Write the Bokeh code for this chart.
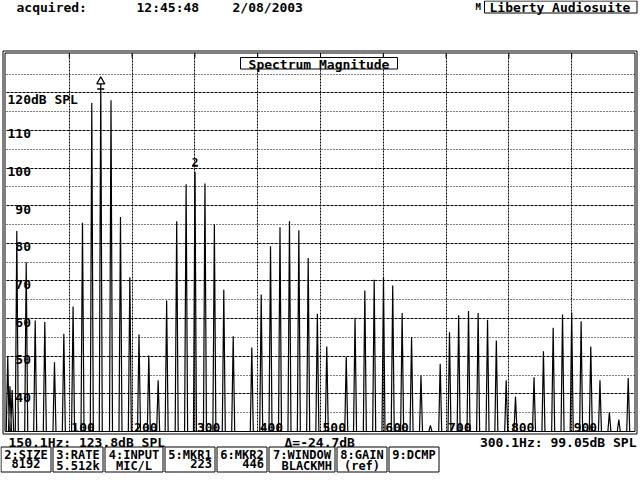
from bokeh.plotting import figure
from bokeh.models import Range1d, Grid, FixedTicker, ColumnDataSource
from bokeh.embed import file_html
from bokeh.resources import INLINE
from bokeh.core.properties import value

# ---------------- data ----------------
peak_hz = [2.0, 5.5, 9.0, 16.4, 31.4, 45.7, 61.0, 76.4, 91.3, 106.0, 121.0, 135.8,
           150.1, 166.4, 181.5, 196.4, 211.0, 226.6, 241.5, 255.0, 271.0, 286.0,
           300.1, 316.0, 331.0, 346.0, 361.0, 390.6, 405.6, 420.4, 435.5, 450.6,
           465.5, 480.4, 495.0, 510.0, 541.0, 555.0, 570.6, 585.5, 600.3, 615.0,
           630.0, 645.0, 660.0, 675.0, 690.6, 705.4, 720.0, 735.7, 751.0, 766.0,
           780.0, 795.7, 810.5, 840.0, 855.0, 870.5, 885.4, 900.0, 915.0, 930.4,
           945.0, 960.0, 975.0, 990.0]
peak_db = [49.8, 42.0, 41.0, 83.3, 75.0, 59.5, 59.1, 48.4, 56.0, 63.2, 85.5, 117.3,
           123.8, 118.0, 87.0, 71.0, 55.8, 50.2, 43.6, 64.8, 85.9, 95.7,
           99.05, 95.9, 85.1, 67.7, 55.3, 52.3, 66.4, 79.2, 84.3, 85.9,
           83.5, 76.1, 61.3, 52.6, 49.8, 60.2, 67.5, 70.3, 71.0, 68.8,
           61.5, 55.1, 44.9, 31.6, 48.0, 56.4, 60.9, 62.0, 61.5, 59.7,
           54.2, 43.6, 39.3, 44.4, 51.3, 57.6, 61.1, 61.6, 59.3, 52.6,
           43.6, 35.1, 33.2, 44.2]
marker1_hz, marker1_db = 150.1, 123.8
marker2_hz, marker2_db = 300.1, 99.05

hz_min, hz_max = 0, 1000
db_min, db_max = 30, 130
x_ticks = [100, 200, 300, 400, 500, 600, 700, 800, 900]
y_major = [40, 50, 60, 70, 80, 90, 100, 110, 120]
y_minor = [35, 45, 55, 65, 75, 85, 95, 105, 115, 125]
y_unit = "dB SPL"

header_words = ["acquired:", "12:45:48", "2/08/2003"]
brand = "Liberty Audiosuite"
chart_title = "Spectrum Magnitude"
cursor1_text = "150.1Hz: 123.8dB SPL"
delta_text = "\u0394=-24.7dB"
cursor2_text = "300.1Hz: 99.05dB SPL"
box_heads = ["2:SIZE", "3:RATE", "4:INPUT", "5:MKR1", "6:MKR2", "7:WINDOW", "8:GAIN", "9:DCMP"]
box_vals = ["8192", "5.512k", "MIC/L", "223", "446", "BLACKMH", "(ref)", ""]

# ---------------- geometry (figure pixels) ----------------
W, H = 640, 480
PX_L, PX_R = 6.0, 634.0       # 0 Hz / 1000 Hz
PY_BOT, PY_TOP = 431.0, 54.7  # 30 dB / 130 dB
sx = (PX_R - PX_L) / (hz_max - hz_min)
sy = (PY_BOT - PY_TOP) / (db_max - db_min)
CW = 7.83  # char width of 13px DejaVu Sans Mono

FONT = value("DejaVu Sans Mono")
FS = "13px"
TXT = dict(text_font=FONT, text_font_size=FS, text_font_style="bold", text_color="black")
TXT_S = dict(text_font=FONT, text_font_size="12px", text_font_style="bold", text_color="black")

p = figure(width=W, height=H,
           x_range=Range1d(hz_min - PX_L / sx, hz_min + (W - PX_L) / sx),
           y_range=Range1d(db_min - (H - PY_BOT) / sy, db_min + PY_BOT / sy),
           x_axis_type=None, y_axis_type=None,
           toolbar_location=None, output_backend="svg",
           min_border=0, outline_line_color=None,
           background_fill_color="white", border_fill_color="white")
p.extra_x_ranges = {"px": Range1d(0, W)}
p.extra_y_ranges = {"py": Range1d(H, 0)}
PXR = dict(x_range_name="px", y_range_name="py")

# ---------------- grid ----------------
top_db = db_min + (PY_BOT - 52.5) / sy
grid_specs = [
    (0, x_ticks, "2 1", (db_min, top_db)),
    (1, y_major, "3 1", (hz_min, hz_max)),
    (1, y_minor, "1 2", (hz_min, hz_max)),
]
for dim, ticks, dash, cb in grid_specs:
    try:
        g = Grid(dimension=dim, ticker=FixedTicker(ticks=ticks), cross_bounds=cb,
                 grid_line_color="black", grid_line_dash=dash, grid_line_width=1)
        p.add_layout(g)
    except AttributeError:
        if dim == 0:
            p.segment(x0=ticks, x1=ticks, y0=[cb[0]] * len(ticks), y1=[cb[1]] * len(ticks),
                      line_color="black", line_dash=dash)
        else:
            p.segment(x0=[cb[0]] * len(ticks), x1=[cb[1]] * len(ticks), y0=ticks, y1=ticks,
                      line_color="black", line_dash=dash)
# solid tick stubs at the top of each vertical grid line
p.segment(x0=x_ticks, x1=x_ticks, y0=[top_db] * len(x_ticks),
          y1=[top_db - 5 / sy] * len(x_ticks), line_color="black", line_width=1)

# ---------------- spectrum ----------------
w = 2.4
xs, ys = [hz_min], [db_min]
for f, d in sorted(zip(peak_hz, peak_db)):
    xs += [f - w, f, f + w]
    ys += [db_min, d, db_min]
xs.append(hz_max)
ys.append(db_min)
p.line(xs, ys, line_color="black", line_width=1.2)

# cursor 2 dotted line
p.segment(x0=[marker2_hz], x1=[marker2_hz], y0=[db_min], y1=[marker2_db],
          line_color="black", line_dash="1 1", line_width=1)

# markers
p.scatter([marker1_hz], [marker1_db - 0.8], marker="triangle", size=8,
          fill_color="white", line_color="black", line_width=1.2)
p.scatter([marker1_hz], [marker1_db - 2.8], marker="dash", size=7,
          line_color="black", line_width=1.5)
p.text([marker2_hz], [marker2_db], text=["2"], text_align="center", text_baseline="bottom",
       y_offset=-6, text_font=FONT, text_font_size="11px", text_font_style="bold",
       text_color="black")
p.scatter([marker2_hz], [marker2_db + 1.5], marker="dash", size=6,
          line_color="black", line_width=1.5)

# axis labels (inside plot)
ylab = [str(v) + (y_unit if v == max(y_major) else "") for v in y_major]
yoff = [1 + (3 - len(str(v))) * CW for v in y_major]
ysrc = ColumnDataSource(dict(x=[hz_min] * len(y_major), y=y_major, t=ylab, o=yoff))
p.text(x="x", y="y", text="t", x_offset="o", y_offset=-1, source=ysrc,
       text_align="left", text_baseline="top", **TXT)
p.text(x_ticks, [db_min] * len(x_ticks), text=[str(v) for v in x_ticks],
       text_align="left", text_baseline="bottom", x_offset=2, y_offset=0, **TXT)

# ---------------- frame ----------------
p.quad(left=[2.5], right=[636.5], top=[50.5], bottom=[433.5], fill_color=None,
       line_color="black", line_width=1, **PXR)
p.quad(left=[4.5], right=[634.5], top=[52.5], bottom=[431], fill_color=None,
       line_color="black", line_width=1, **PXR)

# title box
p.quad(left=[240], right=[397], top=[57], bottom=[68.5], fill_color="white",
       line_color="black", line_width=1, **PXR)
p.text([318.5], [56], text=[chart_title], text_align="center", text_baseline="top", **TXT, **PXR)

# ---------------- header ----------------
p.text([16, 136, 232], [-1, -1, -1], text=header_words, text_align="left",
       text_baseline="top", **TXT, **PXR)
p.text([475], [1], text=["M"], text_align="left", text_baseline="top",
       text_font=FONT, text_font_size="9px", text_font_style="bold", text_color="black", **PXR)
p.quad(left=[484], right=[636.5], top=[0.5], bottom=[12.5], fill_color="white",
       line_color="black", line_width=1, **PXR)
p.text([489], [-1], text=[brand], text_align="left", text_baseline="top", **TXT, **PXR)

# ---------------- footer ----------------
p.text([8], [434], text=[cursor1_text], text_align="left", text_baseline="top", **TXT, **PXR)
p.text([284], [434], text=[delta_text], text_align="left", text_baseline="top", **TXT, **PXR)
p.text([636], [434], text=[cursor2_text], text_align="right", text_baseline="top", **TXT, **PXR)

aligns = ["center", "center", "center", "right", "right", "right", "center", "center"]
lefts, rights = [], []
x = 0.5
for head in box_heads:
    wd = 8 * len(head) + 2
    lefts.append(x)
    rights.append(x + wd)
    x += wd + 2
p.quad(left=lefts, right=rights, top=[446.5] * len(lefts), bottom=[471.5] * len(lefts),
       fill_color=None, line_color="black", line_width=1, **PXR)
p.text([(l + r) / 2 for l, r in zip(lefts, rights)], [447] * len(lefts), text=box_heads,
       text_align="center", text_baseline="top", **TXT_S, **PXR)
vx, vt, va = [], [], []
for l, r, v, a in zip(lefts, rights, box_vals, aligns):
    if not v:
        continue
    vx.append((l + r) / 2 if a == "center" else r - 3)
    vt.append(v)
    va.append(a)
for a in ("center", "right"):
    idx = [i for i in range(len(vt)) if va[i] == a]
    p.text([vx[i] for i in idx], [458.5] * len(idx), text=[vt[i] for i in idx],
           text_align=a, text_baseline="top", **TXT_S, **PXR)

open("out.html", "w").write(file_html(p, INLINE))
